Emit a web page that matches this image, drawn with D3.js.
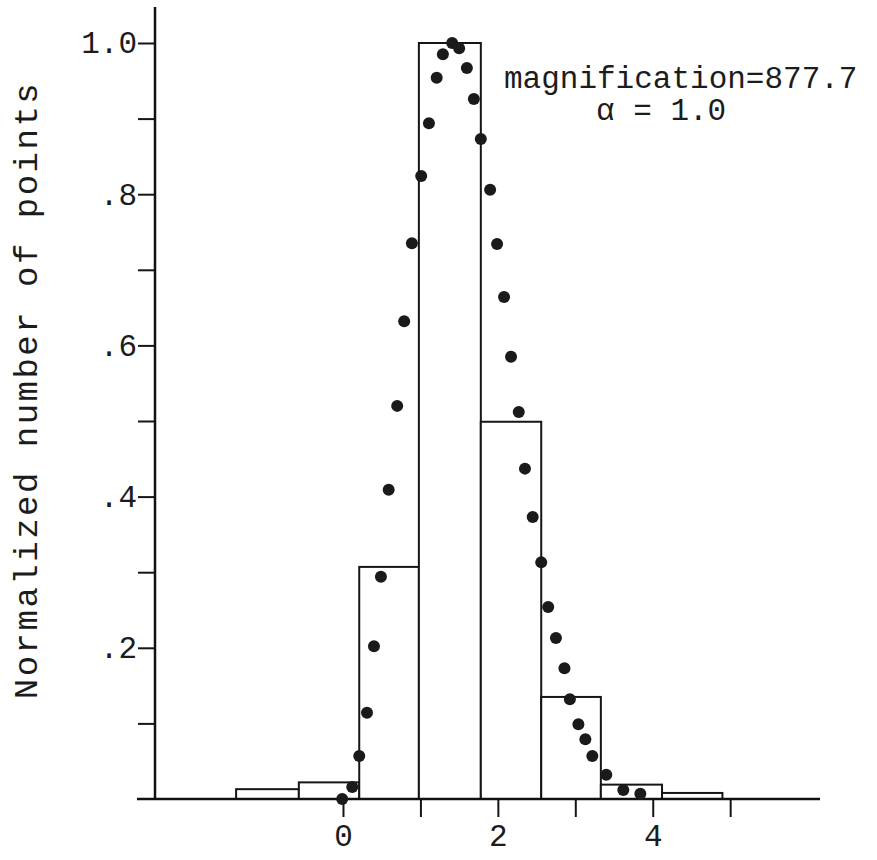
<!DOCTYPE html>
<html>
<head>
<meta charset="utf-8">
<script src="https://cdn.jsdelivr.net/npm/d3@7"></script>
<style>
    body { margin: 0; background: #fff; }
    #chart { width: 877px; height: 860px; }
    text { font-family: "Liberation Mono", "Courier New", monospace; fill: #1c1c1c; }
</style>
</head>
<body>
<div id="chart"></div>
<script>

// histogram: bin edges and normalized heights
const binEdges = [-1.38, -0.57, 0.21, 0.98, 1.78, 2.56, 3.33, 4.12, 4.90];
const binHeights = [0.013, 0.022, 0.307, 1.0, 0.499, 0.135, 0.019, 0.008];

// dots
const pointX = [-0.01, 0.12, 0.21, 0.31, 0.40, 0.49, 0.59, 0.70, 0.79, 0.89,
    1.01, 1.11, 1.21, 1.29, 1.41, 1.50, 1.60, 1.69, 1.78, 1.90,
    1.99, 2.08, 2.17, 2.27, 2.35, 2.45, 2.56, 2.65, 2.75, 2.86,
    2.93, 3.04, 3.13, 3.22, 3.40, 3.62, 3.84];
const pointY = [0.0, 0.016, 0.057, 0.114, 0.202, 0.294, 0.409, 0.520, 0.632, 0.735,
    0.824, 0.894, 0.954, 0.985, 1.0, 0.993, 0.967, 0.926, 0.873, 0.806,
    0.734, 0.664, 0.585, 0.512, 0.437, 0.373, 0.313, 0.254, 0.213, 0.173,
    0.132, 0.099, 0.079, 0.057, 0.032, 0.012, 0.007];

// ticks
const xTicks = [0, 1, 2, 3, 4, 5];
const xTickLabels = ["0", "", "2", "", "4", ""];
const yTicks = [0.1, 0.2, 0.3, 0.4, 0.5, 0.6, 0.7, 0.8, 0.9, 1.0];
const yTickLabels = ["", ".2", "", ".4", "", ".6", "", ".8", "", "1.0"];

const annotation = ["magnification=877.7", "α = 1.0"];
const yTitle = "Normalized number of points";


class HistVis {

    constructor(parentElement) {
        this.parentElement = parentElement;
        this.initVis();
    }

    initVis() {
        let vis = this;

        vis.width = 877;
        vis.height = 860;

        vis.svg = d3.select("#" + vis.parentElement).append("svg")
            .attr("width", vis.width)
            .attr("height", vis.height);

        // scales (axis line runs x 137..820, y 799..7)
        vis.x = d3.scaleLinear()
            .domain([-2.66, 6.16])
            .range([137, 820]);

        vis.y = d3.scaleLinear()
            .domain([0, 1])
            .range([799, 43]);

        vis.yAxisX = 155;

        vis.updateVis();
    }

    updateVis() {
        let vis = this;

        // bars
        let bins = binHeights.map((h, i) => ({x0: binEdges[i], x1: binEdges[i + 1], h: h}));

        vis.svg.selectAll(".bar")
            .data(bins)
            .enter().append("rect")
            .attr("class", "bar")
            .attr("x", d => vis.x(d.x0))
            .attr("y", d => vis.y(d.h))
            .attr("width", d => vis.x(d.x1) - vis.x(d.x0))
            .attr("height", d => vis.y(0) - vis.y(d.h))
            .attr("fill", "#fff")
            .attr("stroke", "#151515")
            .attr("stroke-width", 2);

        // y axis
        let yAxis = d3.axisLeft(vis.y)
            .tickValues(yTicks)
            .tickSize(17)
            .tickPadding(1)
            .tickFormat((d, i) => yTickLabels[i]);

        let yg = vis.svg.append("g")
            .attr("class", "y-axis axis")
            .attr("transform", `translate(${vis.yAxisX}, 0)`)
            .call(yAxis);
        yg.select(".domain").remove();
        yg.selectAll("line").attr("stroke", "#151515").attr("stroke-width", 2);
        yg.selectAll("text")
            .attr("font-family", "Liberation Mono")
            .attr("font-size", 31)
            .attr("fill", "#1c1c1c");

        vis.svg.append("line")
            .attr("x1", vis.yAxisX).attr("x2", vis.yAxisX)
            .attr("y1", vis.y(0)).attr("y2", 7)
            .attr("stroke", "#111")
            .attr("stroke-width", 2.5);

        // x axis
        let xAxis = d3.axisBottom(vis.x)
            .tickValues(xTicks)
            .tickSize(18)
            .tickFormat((d, i) => xTickLabels[i]);

        let xg = vis.svg.append("g")
            .attr("class", "x-axis axis")
            .attr("transform", `translate(0, ${vis.y(0)})`)
            .call(xAxis);
        xg.select(".domain").remove();
        xg.selectAll("line").attr("stroke", "#151515").attr("stroke-width", 2);
        xg.selectAll("text")
            .attr("y", 25)
            .attr("font-family", "Liberation Mono")
            .attr("font-size", 31)
            .attr("fill", "#1c1c1c");

        vis.svg.append("line")
            .attr("x1", 137).attr("x2", 820)
            .attr("y1", vis.y(0)).attr("y2", vis.y(0))
            .attr("stroke", "#111")
            .attr("stroke-width", 2.5);

        // dots
        vis.svg.selectAll(".dot")
            .data(pointX.map((d, i) => ({x: d, y: pointY[i]})))
            .enter().append("circle")
            .attr("class", "dot")
            .attr("cx", d => vis.x(d.x))
            .attr("cy", d => vis.y(d.y))
            .attr("r", 6)
            .attr("fill", "#1a1a1a");

        // annotation
        vis.svg.append("text")
            .attr("x", 504).attr("y", 88)
            .attr("font-size", 31)
            .text(annotation[0]);
        vis.svg.append("text")
            .attr("x", 596).attr("y", 120)
            .attr("font-size", 31)
            .text(annotation[1]);

        // y title
        vis.svg.append("text")
            .attr("transform", "translate(37, 390) rotate(-90)")
            .attr("text-anchor", "middle")
            .attr("font-size", 34)
            .attr("letter-spacing", 2.5)
            .text(yTitle);
    }
}

new HistVis("chart");

</script>
</body>
</html>
